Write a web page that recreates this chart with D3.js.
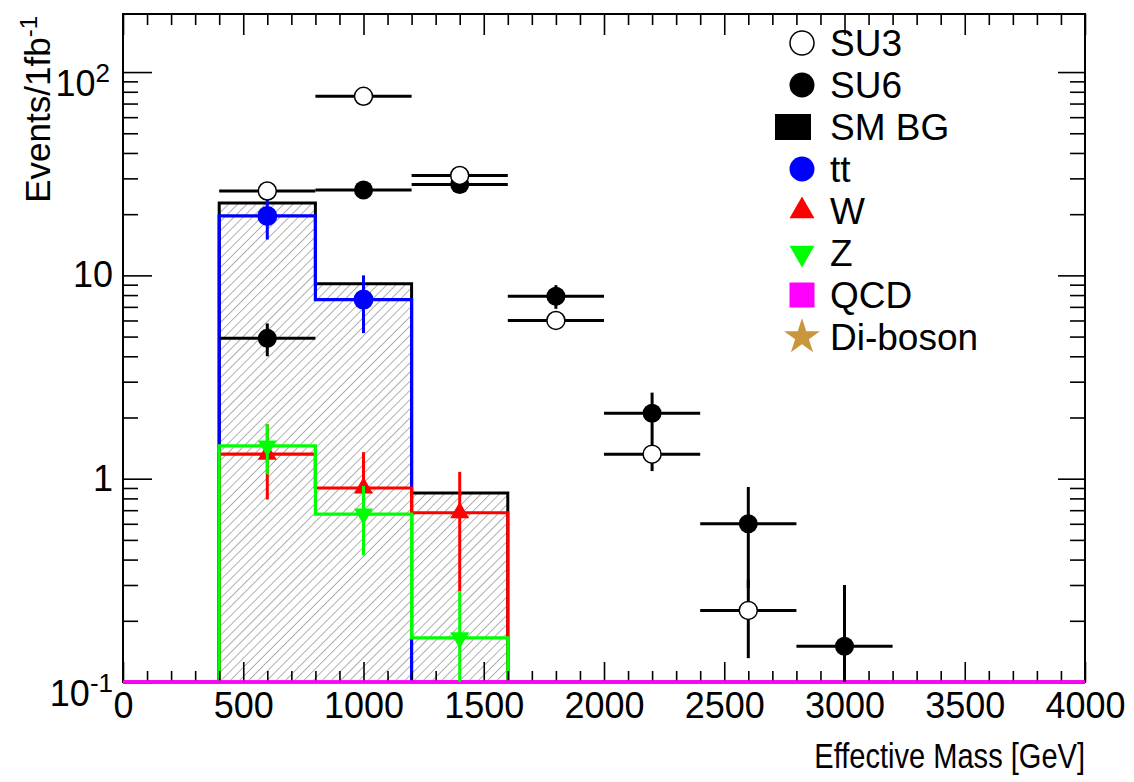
<!DOCTYPE html>
<html>
<head>
<meta charset="utf-8">
<script src="https://cdn.jsdelivr.net/npm/d3@7"></script>
<style>
  body { margin: 0; background: #fff; }
  svg { display: block; }
  text { font-family: "Liberation Sans", Arial, Helvetica, sans-serif; fill: #000; }
</style>
</head>
<body>
<svg id="chart" width="1134" height="782"></svg>
<script>
// Effective-mass distribution, events per 1 fb^-1, 400 GeV bins
const binEdges   = [0, 400, 800, 1200, 1600, 2000, 2400, 2800, 3200, 3600, 4000];
const binCenters = [200, 600, 1000, 1400, 1800, 2200, 2600, 3000, 3400, 3800];

// signal points
const su3    = [0, 26.0, 76.0, 31.0, 6.0, 1.32, 0.225, 0, 0, 0];
const su3Err = [0, 1.3, 2.4, 1.5, 0.5, 0.23, 0.094, 0, 0, 0];
const su6    = [0, 4.9, 26.3, 28.0, 7.9, 2.1, 0.6, 0.15, 0, 0];
const su6Err = [0, 0.9, 1.8, 1.8, 1.05, 0.55, 0.31, 0.15, 0, 0];

// Standard Model backgrounds
const smBg     = [0, 22.7, 9.1, 0.85, 0, 0, 0, 0, 0, 0];
const ttbar    = [0, 19.6, 7.6, 0, 0, 0, 0, 0, 0, 0];
const ttbarErr = [0, 4.6, 2.4, 0, 0, 0, 0, 0, 0, 0];
const wJets    = [0, 1.32, 0.90, 0.68, 0, 0, 0, 0, 0, 0];
const wJetsErr = [0, 0.53, 0.45, 0.40, 0, 0, 0, 0, 0, 0];
const zJets    = [0, 1.45, 0.67, 0.165, 0, 0, 0, 0, 0, 0];
const zJetsErr = [0, 0.40, 0.25, 0.115, 0, 0, 0, 0, 0, 0];
const qcd      = [0, 0, 0, 0, 0, 0, 0, 0, 0, 0];
const diBoson  = [0, 0, 0, 0, 0, 0, 0, 0, 0, 0];

// axis ticks
const xMajorTicks = [0, 500, 1000, 1500, 2000, 2500, 3000, 3500, 4000];
const yMajorTicks = [0.1, 1, 10, 100];
const yTickLabels = [["10", "-1"], ["1", null], ["10", null], ["10", "2"]];

const legendLabels = ["SU3", "SU6", "SM BG", "tt", "W", "Z", "QCD", "Di-boson"];

const svg = d3.select("#chart");
const L = 123, R = 1085, T = 14, B = 682;

const x = d3.scaleLinear().domain([0, 4000]).range([L, R]);
const y = d3.scaleLog().domain([0.1, 193]).range([B, T]);
const yc = v => v > 0 ? Math.max(T, Math.min(B, y(v))) : B;

// hatch pattern for the summed background
const defs = svg.append("defs");
const pat = defs.append("pattern")
  .attr("id", "hatch").attr("patternUnits", "userSpaceOnUse")
  .attr("width", 6.5).attr("height", 6.5)
  .attr("patternTransform", "rotate(45)");
pat.append("line").attr("x1", 0).attr("y1", 0).attr("x2", 0).attr("y2", 6.5)
  .attr("stroke", "#7a7a7a").attr("stroke-width", 1.2);
defs.append("clipPath").attr("id", "plotClip")
  .append("rect").attr("x", L).attr("y", T - 2).attr("width", R - L).attr("height", B - T + 4);

function stepPath(vals, closed) {
  const p = d3.path();
  p.moveTo(x(binEdges[0]), B);
  vals.forEach((v, i) => {
    p.lineTo(x(binEdges[i]), yc(v));
    p.lineTo(x(binEdges[i + 1]), yc(v));
  });
  p.lineTo(x(binEdges[binEdges.length - 1]), B);
  if (closed) p.closePath();
  return p.toString();
}

const plot = svg.append("g").attr("clip-path", "url(#plotClip)");

// SM background: hatched area with black outline
plot.append("path").attr("d", stepPath(smBg, true))
  .attr("fill", "url(#hatch)").attr("stroke", "none");
plot.append("path").attr("d", stepPath(smBg, false))
  .attr("fill", "none").attr("stroke", "#000").attr("stroke-width", 3);

const histStyles = [
  [ttbar, "#0000ff"],
  [wJets, "#ff0000"],
  [zJets, "#00ff00"],
  [diBoson, "#c8963c"],
  [qcd, "#ff00ff"]
];
histStyles.forEach(([vals, col]) => {
  plot.append("path").attr("d", stepPath(vals, false))
    .attr("fill", "none").attr("stroke", col).attr("stroke-width", 3.2);
});

// axes frame and ticks
const frame = svg.append("g");
function tickAxis(axisFn, scale, vals, size, pos, fmt) {
  const a = axisFn(scale).tickValues(vals).tickSize(size).tickSizeOuter(0);
  if (fmt) a.tickPadding(10).tickFormat(fmt); else a.tickFormat("");
  const g = frame.append("g").attr("transform", pos).call(a);
  g.select(".domain").remove();
  g.selectAll(".tick line").attr("stroke", "#000").attr("stroke-width", 1.6);
  return g;
}
const xMinor = d3.range(0, 4001, 100).filter(v => v % 500 !== 0);
const yMinor = [];
[0.1, 1, 10, 100].forEach(d => { for (let k = 2; k <= 9; k++) if (d * k <= 193) yMinor.push(d * k); });

const gx = tickAxis(d3.axisBottom, x, xMajorTicks, -20, `translate(0,${B})`, d3.format("d"));
tickAxis(d3.axisBottom, x, xMinor, -11, `translate(0,${B})`, null);
tickAxis(d3.axisTop, x, xMajorTicks, -21, `translate(0,${T})`, null);
tickAxis(d3.axisTop, x, xMinor, -11, `translate(0,${T})`, null);
const gy = tickAxis(d3.axisLeft, y, yMajorTicks, -29, `translate(${L},0)`, d3.format("g"));
tickAxis(d3.axisLeft, y, yMinor, -15, `translate(${L},0)`, null);
tickAxis(d3.axisRight, y, yMajorTicks, -27, `translate(${R},0)`, null);
tickAxis(d3.axisRight, y, yMinor, -15, `translate(${R},0)`, null);

gx.selectAll(".tick text").attr("font-size", 36).attr("fill", "#000")
  .attr("font-family", "Liberation Sans, Arial, sans-serif");

gy.selectAll(".tick text").each(function(d) {
  const t = d3.select(this);
  const [base, sup] = yTickLabels[yMajorTicks.indexOf(d)];
  t.text(null).attr("font-size", 36).attr("fill", "#000")
    .attr("font-family", "Liberation Sans, Arial, sans-serif");
  t.append("tspan").text(base);
  if (sup) {
    t.attr("dy", null).attr("y", 23);
    t.append("tspan").attr("font-size", 26).attr("dy", -14).text(sup);
  }
});
gy.selectAll(".tick").filter(d => d === 100).select("text").attr("x", -13);

frame.append("rect").attr("x", L).attr("y", T).attr("width", R - L).attr("height", B - T)
  .attr("fill", "none").attr("stroke", "#000").attr("stroke-width", 2);

// QCD histogram lies on the lower edge, drawn above the frame
svg.append("line").attr("x1", x(0)).attr("x2", x(4000)).attr("y1", yc(qcd[0])).attr("y2", yc(qcd[0]))
  .attr("stroke", "#ff00ff").attr("stroke-width", 3.5);

// points with error bars
const pts = svg.append("g").attr("clip-path", "url(#plotClip)");
function drawMarker(g, type, cx, cy, s) {
  if (type === "open") {
    g.append("circle").attr("cx", cx).attr("cy", cy).attr("r", s)
      .attr("fill", "#fff").attr("stroke", "#000").attr("stroke-width", 1.5);
  } else if (type === "filled") {
    g.append("circle").attr("cx", cx).attr("cy", cy).attr("r", s).attr("fill", "#000");
  } else if (type === "blue") {
    g.append("circle").attr("cx", cx).attr("cy", cy).attr("r", s).attr("fill", "#0000ff");
  } else if (type === "up") {
    g.append("path").attr("d", d3.symbol(d3.symbolTriangle, s * s * 0.433))
      .attr("transform", `translate(${cx},${cy})`).attr("fill", "#ff0000");
  } else if (type === "down") {
    g.append("path").attr("d", d3.symbol(d3.symbolTriangle, s * s * 0.433))
      .attr("transform", `translate(${cx},${cy}) rotate(180)`).attr("fill", "#00ff00");
  } else if (type === "square") {
    g.append("rect").attr("x", cx - s / 2).attr("y", cy - s / 2).attr("width", s).attr("height", s)
      .attr("fill", "#ff00ff");
  } else if (type === "bigsquare") {
    g.append("rect").attr("x", cx - 27).attr("y", cy - 13).attr("width", 36).attr("height", 26)
      .attr("fill", "#000");
  } else if (type === "star") {
    g.append("path").attr("d", d3.symbol(d3.symbolStar, s * s * 0.55))
      .attr("transform", `translate(${cx},${cy})`).attr("fill", "#c8963c");
  }
}
function drawPoints(vals, errs, opts) {
  vals.forEach((v, i) => {
    if (!(v > 0)) return;
    const cx = x(binCenters[i]), cy = y(v);
    const lo = yc(v - errs[i]), hi = yc(v + errs[i]);
    pts.append("line").attr("x1", cx).attr("x2", cx).attr("y1", lo).attr("y2", hi)
      .attr("stroke", opts.color).attr("stroke-width", 3);
    if (opts.xerr) {
      pts.append("line").attr("x1", x(binEdges[i])).attr("x2", x(binEdges[i + 1]))
        .attr("y1", cy).attr("y2", cy).attr("stroke", opts.color).attr("stroke-width", 3);
    }
    drawMarker(pts, opts.marker, cx, cy, opts.size);
  });
}

drawPoints(ttbar, ttbarErr, { color: "#0000ff", marker: "blue", size: 10, xerr: false });
drawPoints(wJets, wJetsErr, { color: "#ff0000", marker: "up", size: 19, xerr: false });
drawPoints(zJets, zJetsErr, { color: "#00ff00", marker: "down", size: 19, xerr: false });
drawPoints(su6, su6Err, { color: "#000", marker: "filled", size: 9.5, xerr: true });
drawPoints(su3, su3Err, { color: "#000", marker: "open", size: 9, xerr: true });

// legend
const legendMarkers = [
  ["open", 12], ["filled", 12.5], ["bigsquare", 0], ["blue", 12.5],
  ["up", 25], ["down", 25], ["square", 25], ["star", 27]
];
const leg = svg.append("g");
legendLabels.forEach((lab, i) => {
  const cy = 43 + 42 * i;
  drawMarker(leg, legendMarkers[i][0], 802, cy, legendMarkers[i][1]);
  leg.append("text").attr("x", 830).attr("y", cy + 13).attr("font-size", 37).text(lab);
});

// axis titles
svg.append("text").attr("transform", `translate(${R},768) scale(0.83,1)`)
  .attr("text-anchor", "end").attr("font-size", 35)
  .text("Effective Mass [GeV]");
const yt = svg.append("text").attr("transform", "translate(50,16) rotate(-90)")
  .attr("text-anchor", "end").attr("font-size", 35);
yt.append("tspan").text("Events/1fb");
yt.append("tspan").attr("font-size", 24).attr("dy", -13).text("-1");
</script>
</body>
</html>
